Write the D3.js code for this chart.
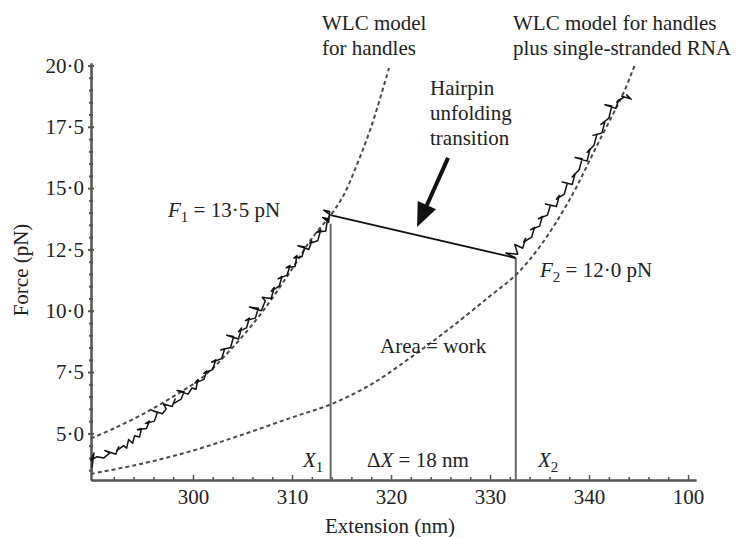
<!DOCTYPE html>
<html>
<head>
<meta charset="utf-8">
<script src="https://cdn.jsdelivr.net/npm/d3@7/dist/d3.min.js"></script>
<style>
  html, body { margin: 0; padding: 0; background: #fff; }
  svg { display: block; }
  text { font-family: "Liberation Serif", "Times New Roman", serif; fill: #222; }
</style>
</head>
<body>
<svg id="chart" width="736" height="537"></svg>
<script>
// ---------------- data ----------------
const xMajorTicks = [300, 310, 320, 330, 340, 350];
const xTickLabels = ["300", "310", "320", "330", "340", "100"];
const xMinorTicks = [292, 294, 296, 298, 302, 304, 306, 308, 312, 314, 316, 318, 322, 324, 326, 328, 332, 334, 336, 338, 342, 344, 346, 348];
const yMajorTicks = [5, 7.5, 10, 12.5, 15, 17.5, 20];
const yTickLabels = ["5·0", "7·5", "10·0", "12·5", "15·0", "17·5", "20·0"];
const yMinorTicks = [3.5, 4, 4.5, 5.5, 6, 6.5, 7, 8, 8.5, 9, 9.5, 10.5, 11, 11.5, 12, 13, 13.5, 14, 14.5, 15.5, 16, 16.5, 17, 18, 18.5, 19, 19.5];

// folded branch (extension nm, force pN)
const foldedTrace = [
  [289.8,3.6],[290.0,4.2],[289.7,3.9],[290.3,4.05],[291.0,4.0],[291.6,4.2],[291.1,4.3],[292.2,4.15],
  [292.5,4.45],[292.3,4.3],[293.0,4.5],[293.3,4.4],[293.5,4.75],[293.9,4.6],[294.1,4.9],[294.6,4.85],
  [294.8,5.2],[294.4,5.15],[295.3,5.2],[295.6,5.5],[295.2,5.4],[296.1,5.5],[296.4,5.85],[295.8,5.95],
  [296.9,5.8],[297.3,6.0],[297.0,6.2],[297.9,6.1],[298.2,6.4],[298.0,6.2],[298.8,6.4],[299.1,6.7],
  [298.4,6.75],[299.5,6.6],[299.9,6.85],[300.3,6.8],[300.5,7.2],[300.2,7.05],[301.1,7.2],[301.4,7.55],
  [301.1,7.45],[302.0,7.6],[302.3,8.0],[301.9,7.9],[302.9,8.05],[303.2,8.45],[302.8,8.4],[303.8,8.5],
  [304.1,8.95],[303.4,9.0],[304.6,8.85],[304.9,9.3],[304.6,9.15],[305.4,9.3],[305.7,9.7],[305.3,9.6],
  [306.3,9.7],[306.6,10.1],[305.7,10.15],[306.9,10.0],[307.3,10.4],[307.0,10.55],[307.9,10.5],[308.2,10.95],
  [307.9,10.8],[308.7,11.0],[309.0,11.4],[308.6,11.3],[309.5,11.45],[309.8,11.85],[309.4,11.75],[310.3,11.8],
  [310.5,12.25],[310.2,12.15],[311.0,12.2],[311.3,12.6],[310.6,12.65],[311.7,12.5],[312.0,12.85],[311.8,12.75],
  [312.6,12.85],[312.9,13.3],[312.5,13.2],[313.4,13.25],[313.6,13.75],[313.1,13.8],[313.7,13.6],[313.8,14.05],
  [313.2,14.1],[313.9,13.9]
];
// unfolded branch
const unfoldedTrace = [
  [332.6,12.15],[331.6,12.35],[332.8,12.3],[332.5,12.7],[333.3,12.55],[333.6,12.95],[333.4,12.8],[334.2,13.0],
  [334.5,13.4],[334.1,13.3],[335.0,13.45],[335.3,13.85],[334.9,13.75],[335.8,13.9],[336.1,14.3],[335.6,14.35],
  [336.7,14.25],[337.0,14.7],[336.7,14.55],[337.5,14.75],[337.8,15.2],[337.3,15.25],[338.3,15.15],[338.6,15.6],
  [338.3,15.45],[339.0,15.75],[339.3,16.2],[338.6,16.25],[339.8,16.1],[340.1,16.6],[339.8,16.45],[340.5,16.75],
  [340.8,17.2],[340.4,17.15],[341.3,17.25],[341.6,17.7],[341.2,17.6],[342.0,17.85],[342.3,18.35],[341.6,18.4],
  [342.7,18.25],[343.0,18.6],[342.8,18.5],[343.5,18.7],[343.3,18.75],[344.1,18.65],[343.8,18.8],[344.3,18.6]
];
// unfolding transition (straight line)
const transition = [[313.9, 13.9], [332.6, 12.15]];
// WLC model for handles
const wlcHandles = [
  [289.7,4.8],[292,5.2],[295,5.8],[298,6.5],[301,7.3],[304,8.5],[307,9.95],[310,11.7],[312,12.95],
  [314,13.95],[315.2,14.7],[316.5,15.9],[318,17.5],[319.8,19.9]
];
// WLC model for handles plus single-stranded RNA
const wlcHandlesRNA = [
  [289.7,3.35],[295,3.78],[300,4.3],[305,4.95],[310,5.65],[314,6.2],[318,7.0],[322,8.1],[326,9.3],
  [330,10.6],[332.7,11.5],[335,12.6],[338,14.5],[341,16.9],[343.5,18.9],[344.6,20.0]
];
// extensions X1, X2 and the forces where the verticals end
const xMarks = [313.9, 332.6];
const xMarkTops = [13.55, 12.15];
// arrow (from, to) in data coordinates
const arrowPts = [[325.76, 16.23], [322.63, 13.41]];

// ---------------- chart ----------------
const svg = d3.select("#chart");
const x = d3.scaleLinear().domain([289.7, 350.8]).range([91, 696]);
const y = d3.scaleLinear().domain([3.1, 20.1]).range([480, 63]);
const axisColor = "#555";
const FS = 21;

// axes
const gx = svg.append("g").attr("transform", `translate(0,${y(3.1)})`);
gx.call(d3.axisBottom(x).tickValues(xMinorTicks).tickSize(-3).tickSizeOuter(0).tickFormat(""));
const gx2 = svg.append("g").attr("transform", `translate(0,${y(3.1)})`);
gx2.call(d3.axisBottom(x).tickValues(xMajorTicks).tickSize(-5).tickSizeOuter(0)
  .tickFormat((d, i) => xTickLabels[i]));
[gx, gx2].forEach(g => {
  g.select(".domain").attr("stroke", axisColor).attr("stroke-width", 2);
  g.selectAll(".tick line").attr("stroke", axisColor).attr("stroke-width", 1.5);
});
gx2.selectAll(".tick text").attr("y", 9).attr("font-size", FS)
  .style("font-family", '"Liberation Serif", serif').attr("fill", "#222");

const gy = svg.append("g").attr("transform", `translate(${x(289.7)},0)`);
gy.call(d3.axisLeft(y).tickValues(yMinorTicks).tickSize(2).tickSizeOuter(0).tickFormat(""));
const gy2 = svg.append("g").attr("transform", `translate(${x(289.7)},0)`);
gy2.call(d3.axisLeft(y).tickValues(yMajorTicks).tickSize(3).tickSizeOuter(0)
  .tickFormat((d, i) => yTickLabels[i]));
[gy, gy2].forEach(g => {
  g.select(".domain").attr("stroke", axisColor).attr("stroke-width", 2);
  g.selectAll(".tick line").attr("stroke", axisColor).attr("stroke-width", 2).attr("x2", -2).attr("x1", 2);
});
gy2.selectAll(".tick line").attr("x1", 3).attr("x2", -3);
gy2.selectAll(".tick text").attr("x", -7).attr("font-size", FS)
  .style("font-family", '"Liberation Serif", serif').attr("fill", "#222");

// axis titles
svg.append("text").attr("x", 390).attr("y", 533).attr("text-anchor", "middle")
  .attr("font-size", FS).text("Extension (nm)");
svg.append("text").attr("transform", "translate(28,270) rotate(-90)").attr("text-anchor", "middle")
  .attr("font-size", FS).text("Force (pN)");

// vertical lines X1, X2
svg.selectAll("line.xmark").data(xMarks).enter().append("line")
  .attr("class", "xmark")
  .attr("x1", d => x(d)).attr("x2", d => x(d))
  .attr("y1", y(3.1)).attr("y2", (d, i) => y(xMarkTops[i]))
  .attr("stroke", "#666").attr("stroke-width", 2);

// dashed WLC curves
const curveLine = d3.line().x(d => x(d[0])).y(d => y(d[1])).curve(d3.curveCatmullRom.alpha(0.5));
[wlcHandles, wlcHandlesRNA].forEach(c => {
  svg.append("path").datum(c).attr("d", curveLine)
    .attr("fill", "none").attr("stroke", "#4a4a4a").attr("stroke-width", 2)
    .attr("stroke-dasharray", "4,3");
});

// data traces
const traceLine = d3.line().x(d => x(d[0])).y(d => y(d[1]));
[foldedTrace, unfoldedTrace].forEach(t => {
  svg.append("path").datum(t).attr("d", traceLine)
    .attr("fill", "none").attr("stroke", "#111").attr("stroke-width", 1.5)
    .attr("stroke-linejoin", "round");
});
svg.append("path").datum(transition).attr("d", traceLine)
  .attr("fill", "none").attr("stroke", "#111").attr("stroke-width", 1.8);

// arrow
const ax0 = x(arrowPts[0][0]), ay0 = y(arrowPts[0][1]);
const ax1 = x(arrowPts[1][0]), ay1 = y(arrowPts[1][1]);
const ang = Math.atan2(ay1 - ay0, ax1 - ax0);
const headLen = 24, headHalf = 10;
const bx = ax1 - headLen * Math.cos(ang), by = ay1 - headLen * Math.sin(ang);
svg.append("line").attr("x1", ax0).attr("y1", ay0).attr("x2", bx + 2 * Math.cos(ang)).attr("y2", by + 2 * Math.sin(ang))
  .attr("stroke", "#111").attr("stroke-width", 4);
svg.append("polygon")
  .attr("points", [
    [ax1, ay1],
    [bx + headHalf * Math.sin(ang), by - headHalf * Math.cos(ang)],
    [bx - headHalf * Math.sin(ang), by + headHalf * Math.cos(ang)]
  ].map(p => p.join(",")).join(" "))
  .attr("fill", "#111");

// annotations
function label(xp, yp, parts) {
  const t = svg.append("text").attr("x", xp).attr("y", yp).attr("font-size", FS);
  parts.forEach(p => {
    const s = t.append("tspan").text(p.t);
    if (p.i) s.attr("font-style", "italic");
    if (p.sub) s.attr("font-size", 15).attr("dy", 5);
    if (p.up) s.attr("dy", -5);
  });
  return t;
}
label(322, 30, [{t: "WLC model"}]);
label(322, 55, [{t: "for handles"}]);
label(513, 30, [{t: "WLC model for handles"}]);
label(513, 55, [{t: "plus single-stranded RNA"}]);
label(430, 95, [{t: "Hairpin"}]);
label(430, 120, [{t: "unfolding"}]);
label(430, 145, [{t: "transition"}]);
label(168, 217, [{t: "F", i: true}, {t: "1", sub: true}, {t: " = 13·5 pN", up: true}]);
label(540, 277, [{t: "F", i: true}, {t: "2", sub: true}, {t: " = 12·0 pN", up: true}]);
label(380, 353, [{t: "Area = work"}]);
label(303, 467, [{t: "X", i: true}, {t: "1", sub: true}]);
label(367, 467, [{t: "Δ"}, {t: "X", i: true}, {t: " = 18 nm"}]);
label(538, 467, [{t: "X", i: true}, {t: "2", sub: true}]);
</script>
</body>
</html>
